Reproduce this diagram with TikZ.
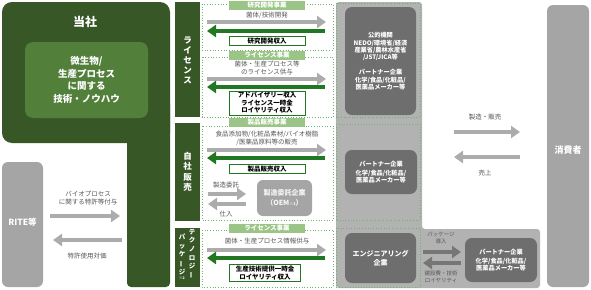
\documentclass[tikz,border=0pt]{standalone}
\usepackage{fontspec}
\setmainfont{Noto Sans CJK JP}
\usetikzlibrary{arrows.meta,positioning}

\definecolor{tosha}{RGB}{56,87,38}
\definecolor{innergreen}{RGB}{82,128,58}
\definecolor{taggreen}{RGB}{155,197,135}
\definecolor{arrowgreen}{RGB}{34,120,34}
\definecolor{dotgreen}{RGB}{110,180,110}
\definecolor{colgray}{RGB}{178,178,178}
\definecolor{boxgray}{RGB}{110,110,110}
\definecolor{arrowgray}{RGB}{172,172,172}
\definecolor{darkarrowgray}{RGB}{118,118,118}
\definecolor{textgray}{RGB}{85,85,85}
\definecolor{endgray}{RGB}{165,165,165}

\begin{document}
\begin{tikzpicture}[x=1pt, y=-1pt,
    font=\fontsize{6.5}{8}\selectfont,
    sidebar/.style={fill=tosha, draw=none},
    vtext/.style={text=white, align=center, inner sep=0pt,
                  font=\fontsize{8.5}{10}\selectfont\bfseries},
    biz/.style={draw=dotgreen, dotted, line width=0.7pt},
    tag/.style={fill=taggreen, text=white, inner sep=0pt,
                minimum width=76pt, minimum height=9pt,
                font=\fontsize{6.5}{7}\selectfont\bfseries},
    income/.style={draw=arrowgreen, line width=0.8pt, fill=white, align=center,
                   minimum width=76pt, inner sep=1.5pt,
                   font=\fontsize{6.5}{7.5}\selectfont\bfseries},
    party/.style={fill=boxgray, rounded corners=7pt, text=white, align=center,
                  inner sep=0pt, font=\fontsize{6.2}{8.5}\selectfont\bfseries},
    note/.style={text=textgray, align=center, inner sep=0pt},
    endbox/.style={fill=endgray, rounded corners=6pt, text=white,
                   font=\fontsize{9}{10}\selectfont\bfseries},
    grayarrow/.style={draw=arrowgray, line width=4pt,
                      -{Triangle[length=9pt,width=12pt]}},
    greenarrow/.style={grayarrow, draw=arrowgreen},
    darkarrow/.style={grayarrow, draw=darkarrowgray}
  ]
    \useasboundingbox (0,0) rectangle (591,289);

    % 当社
    \fill[tosha, rounded corners=10pt] (2,2) rectangle (170,143);
    \fill[tosha, rounded corners=4pt] (127,100) rectangle (170,287);
    \node[text=white, font=\fontsize{12}{13}\selectfont\bfseries] (tosha) at (85,22) {当社};
    \node[fill=innergreen, rounded corners=8pt, minimum width=123pt, minimum height=76pt,
          text=white, align=center, font=\fontsize{9.5}{12.5}\selectfont\bfseries]
      (knowhow) at (86.5,80) {微生物/\\生産プロセス\\に関する\\技術・ノウハウ};

    % side bars
    \fill[sidebar] (175,2) rectangle (200,117);
    \fill[sidebar] (175,123) rectangle (200,221);
    \fill[sidebar] (175,228) rectangle (200,287);
    \node[vtext] (barlic) at (187.5,60) {ラ\\イ\\セ\\ン\\ス};
    \node[vtext, font=\fontsize{8.5}{10.5}\selectfont\bfseries] (barsales) at (187.5,172) {自\\社\\販\\売};
    \node[vtext, font=\fontsize{6.5}{8.6}\selectfont\bfseries, anchor=north]
      (bartech) at (192,229) {テ\\ク\\ノ\\ロ\\ジ\\\rotatebox[origin=c]{90}{ー}};
    \node[vtext, font=\fontsize{6.5}{8.6}\selectfont\bfseries, anchor=north]
      (barpkg) at (182,234) {パ\\ッ\\ケ\\\rotatebox[origin=c]{90}{ー}\\ジ\\[-3pt]{\fontsize{3.5}{4}\selectfont ※2}};

    % gray column
    \fill[colgray, rounded corners=3pt]
      (336,2) -- (422,2) -- (422,229) -- (540,229) -- (540,288) -- (336,288) -- cycle;

    % business areas
    \draw[biz] (202,4) rectangle (333,50);
    \draw[biz] (202,57) rectangle (333,117);
    \draw[biz] (202,126) rectangle (333,220);
    \draw[biz] (202,230) rectangle (333,287);
    \draw[biz] (336,3) rectangle (420,117);
    \draw[biz] (336,124) rectangle (420,220);
    \draw[biz] (336,228) rectangle (420,287);

    \node[tag] (tagrd) at (267,5) {研究開発事業};
    \node[tag] (taglic) at (267,55) {ライセンス事業};
    \node[tag] (tagsales) at (267,122) {製品販売事業};
    \node[tag] (tagpkg) at (267,228) {ライセンス事業};

    \node[note] (rdtext) at (267,15) {菌体/技術開発};
    \node[note] (lictext) at (267,68) {菌体・生産プロセス等\\のライセンス供与};
    \node[note] (salestext) at (267,138) {食品添加物/化粧品素材/バイオ樹脂\\/医薬品原料等の販売};
    \node[note] (pkgtext) at (267,241) {菌体・生産プロセス情報供与};

    \foreach \n/\y/\z in {rd/22/31, lic/79/87, sales/150/158, pkg/250/258}{
      \coordinate (\n-a) at (207,\y);
      \coordinate (\n-b) at (326,\y);
      \coordinate (\n-c) at (207,\z);
      \coordinate (\n-d) at (325,\z);
      \draw[grayarrow] (\n-a) -- (\n-b);
      \draw[greenarrow] (\n-d) -- (\n-c);
    }

    \node[income] (rdincome) at (267,41) {研究開発収入};
    \node[income] (licincome) at (267,103) {アドバイザリー収入\\ライセンス一時金\\ロイヤリティ収入};
    \node[income] (salesincome) at (267,169) {製品販売収入};
    \node[income, minimum width=71pt] (pkgincome) at (265,273) {生産技術提供一時金\\ロイヤリティ収入};

    % OEM
    \node[note] (oemout) at (226,185) {製造委託};
    \node[note] (oemin) at (226,214) {仕入};
    \coordinate (oem-a) at (208,194);
    \coordinate (oem-b) at (246,194);
    \coordinate (oem-c) at (208,204);
    \coordinate (oem-d) at (246,204);
    \draw[grayarrow] (oem-a) -- (oem-b);
    \draw[grayarrow] (oem-d) -- (oem-c);
    \node[fill=endgray, rounded corners=6pt, minimum width=55pt, minimum height=36pt,
          text=white!92!gray, align=center, font=\fontsize{7}{10}\selectfont\bfseries]
      (oem) at (284.5,198) {製造委託企業\\（OEM{\fontsize{4}{5}\selectfont ※1}）};

    % partners
    \node[party, minimum width=71pt, minimum height=108pt] (public) at (380.5,61)
      {公的機関\\NEDO/環境省/経済\\[-1.5pt]産業省/農林水産省\\[-1.5pt]/JST/JICA等\\[6pt]
       パートナー企業\\化学/食品/化粧品/\\[-1.5pt]医薬品メーカー等};
    \node[party, minimum width=72pt, minimum height=44pt] (partner) at (381,172)
      {パートナー企業\\化学/食品/化粧品/\\[-1.5pt]医薬品メーカー等};
    \node[party, minimum width=71pt, minimum height=50pt,
          font=\fontsize{7}{9}\selectfont\bfseries] (eng) at (380.5,258)
      {エンジニアリング\\企業};
    \node[party, minimum width=72pt, minimum height=44pt] (partner2) at (501,260)
      {パートナー企業\\化学/食品/化粧品/\\[-1.5pt]医薬品メーカー等};

    % package flows
    \node[note, font=\fontsize{5.5}{7.5}\selectfont] (pkgin) at (441,238) {パッケージ\\導入};
    \node[note, font=\fontsize{5.5}{7.5}\selectfont] (pkgfee) at (441,277) {建設費・技術\\ロイヤリティ};
    \coordinate (eng-a) at (423,252);
    \coordinate (eng-b) at (461,252);
    \coordinate (eng-c) at (423,263);
    \coordinate (eng-d) at (461,263);
    \draw[darkarrow] (eng-a) -- (eng-b);
    \draw[darkarrow] (eng-d) -- (eng-c);

    % consumers
    \node[endbox, minimum width=42pt, minimum height=282pt] (consumer) at (568,146) {};
    \node[text=white, font=\fontsize{9}{10}\selectfont\bfseries] (consumerlabel) at (568,150) {消費者};
    \node[note] (make) at (485,117) {製造・販売};
    \node[note] (uriage) at (485,173) {売上};
    \coordinate (sell-a) at (454,132);
    \coordinate (sell-b) at (520,132);
    \coordinate (sell-c) at (454,157);
    \coordinate (sell-d) at (520,157);
    \draw[grayarrow] (sell-a) -- (sell-b);
    \draw[grayarrow] (sell-d) -- (sell-c);

    % RITE
    \node[endbox, minimum width=41pt, minimum height=125pt] (rite) at (22.5,224.5) {};
    \node[text=white, font=\fontsize{8.5}{10}\selectfont\bfseries] (ritelabel) at (22.5,222) {RITE等};
    \node[note] (patent) at (88,198) {バイオプロセス\\に関する特許等付与};
    \node[note] (royalty) at (87,256) {特許使用対価};
    \coordinate (rite-a) at (50,216);
    \coordinate (rite-b) at (120,216);
    \coordinate (rite-c) at (53,240);
    \coordinate (rite-d) at (122,240);
    \draw[grayarrow] (rite-a) -- (rite-b);
    \draw[grayarrow] (rite-d) -- (rite-c);
\end{tikzpicture}
\end{document}
